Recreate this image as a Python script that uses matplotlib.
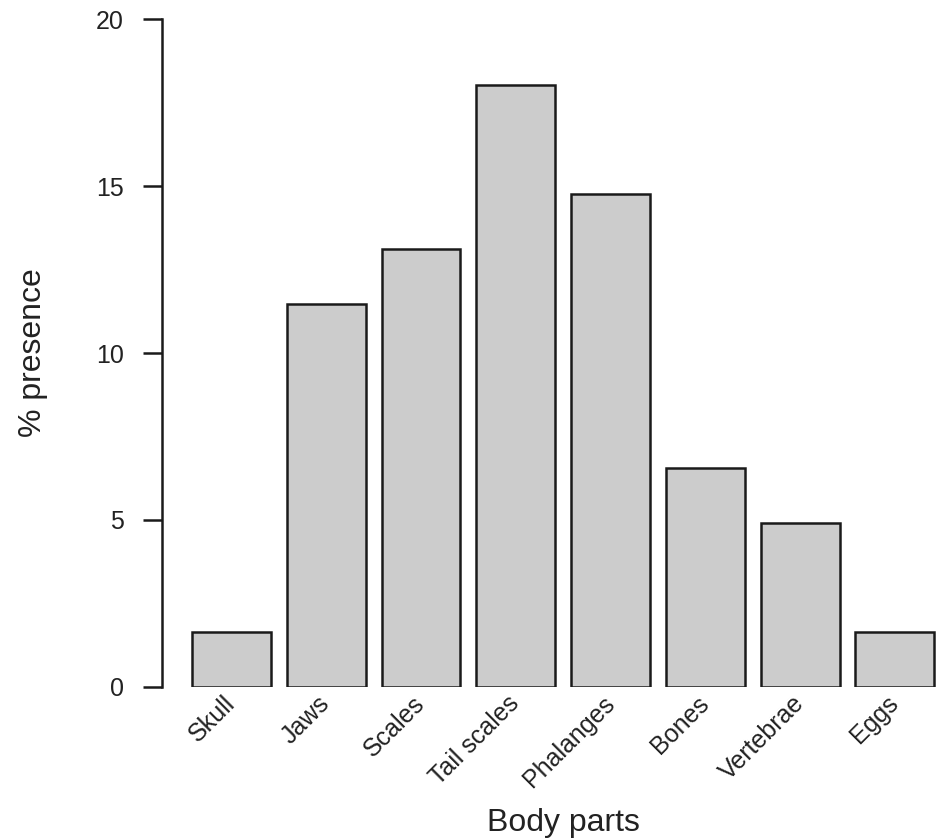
import matplotlib
matplotlib.use("Agg")
import matplotlib.pyplot as plt
import matplotlib.transforms as mtransforms
import numpy as np

plt.rcParams['font.family'] = ['Liberation Sans', 'DejaVu Sans']

parts = ['Skull', 'Jaws', 'Scales', 'Tail scales', 'Phalanges', 'Bones', 'Vertebrae', 'Eggs']
presence = [1.64, 11.48, 13.11, 18.03, 14.75, 6.56, 4.92, 1.64]
yticks = [0, 5, 10, 15, 20]

W, H = 937, 839
fig = plt.figure(figsize=(W / 100, H / 100), dpi=100)
# plot region as R would lay it out (it runs past the right edge of the image)
ax = fig.add_axes([162.3 / W, (H - 686.7) / H, 801.7 / W, 667.4 / H])

# R barplot spacing: width 1, space 0.2
centers = np.arange(len(parts)) * 1.2 + 0.7
ax.bar(centers, presence, width=1.0, color='#cccccc', edgecolor='#1a1a1a',
       linewidth=1.8)

ax.set_xlim(-0.176, 9.976)
ax.set_ylim(0, 20)

for s in ['top', 'right', 'bottom']:
    ax.spines[s].set_visible(False)
ax.spines['left'].set_bounds(0, 20)
ax.spines['left'].set_linewidth(1.8)
ax.spines['left'].set_color('#1a1a1a')

ax.set_yticks(yticks)
ax.set_yticklabels([str(v) for v in yticks])
ax.tick_params(axis='y', length=13.7, width=1.8, color='#1a1a1a', pad=14,
               labelsize=18, labelcolor='#222222')

# rotated category labels, right-centre anchored under each bar (like R text(srt=45, adj=1))
ax.set_xticks([])
shift = mtransforms.ScaledTranslation(0, -13 / 100, fig.dpi_scale_trans)
for c, name in zip(centers, parts):
    ax.text(c, 0, name, transform=ax.get_xaxis_transform() + shift,
            rotation=45, ha='right', va='center', rotation_mode='anchor',
            fontsize=18, color='#222222')

ax.set_xlabel('Body parts', fontsize=23, color='#222222')
ax.xaxis.set_label_coords(0.5, -(808 - 686.7) / 667.4)
ax.set_ylabel('% presence', fontsize=23, color='#222222')
ax.yaxis.set_label_coords(-(162.3 - 48) / 801.7, 0.5)

fig.savefig('out.png', dpi=100)
